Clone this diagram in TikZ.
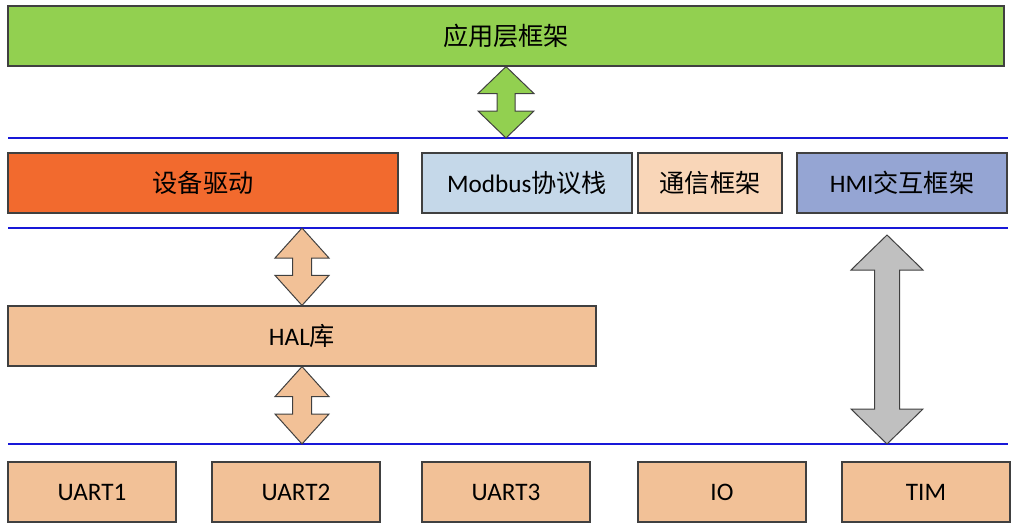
\documentclass[tikz,border=0pt]{standalone}
\usepackage{fontspec}
\setmainfont{Carlito}
\newfontfamily\cjk{Noto Sans CJK SC}
\usetikzlibrary{calc}

\definecolor{appgreen}{HTML}{92D050}
\definecolor{drvorange}{HTML}{F26A2E}
\definecolor{modblue}{HTML}{C5D8E9}
\definecolor{compeach}{HTML}{F9D6B8}
\definecolor{hmiblue}{HTML}{95A5D3}
\definecolor{halpeach}{HTML}{F2C197}
\definecolor{linkgray}{HTML}{C0C0C0}
\definecolor{busblue}{HTML}{1818D8}
\definecolor{edgegray}{HTML}{404040}

% #1 top tip, #2 bottom tip, #3 half shaft, #4 half head, #5 head length, #6 fill
\newcommand\updown[6]{%
\draw [edgegray, fill=#6, line width=0.5pt] (#1) -- ++(#4,#5) -- ++({#3-#4},0)
  -- ($(#2)+(#3,-#5)$) -- ++({#4-#3},0) -- (#2) -- ++(-#4,-#5) -- ++({#4-#3},0)
  -- ($(#1)+(-#3,#5)$) -- ++({#3-#4},0) -- cycle;}

\begin{document}
\begin{tikzpicture}[x=0.5pt,y=-0.5pt,
  box/.style={draw=edgegray, line width=0.6pt, minimum height=30pt, inner sep=0pt,
    font=\fontsize{12.6pt}{15pt}\selectfont},
  bus/.style={busblue, line width=1.4pt}]
\useasboundingbox (0,0) rectangle (1016,525);
% top layer
\node [box, fill=appgreen, minimum width=498pt] (app) at (506,36) {\cjk 应用层框架};
\coordinate (l1w) at (8,138);
\draw [bus] (l1w) -- (1008,138);
% middle layer
\node [box, fill=drvorange, minimum width=195pt] (drv) at (203,183) {\cjk 设备驱动};
\node [box, fill=modblue, minimum width=105pt] (mod) at (527,183) {Modbus{\cjk 协议栈}};
\node [box, fill=compeach, minimum width=72pt] (com) at (710,183) {\cjk 通信框架};
\node [box, fill=hmiblue, minimum width=105pt] (hmi) at (902,183) {HMI{\cjk 交互框架}};
\coordinate (l2w) at (8,228);
\draw [bus] (l2w) -- (1008,228);
\node [box, fill=halpeach, minimum width=294pt] (hal) at (302,336) {HAL{\cjk 库}};
\coordinate (l3w) at (8,444);
\draw [bus] (l3w) -- (1008,444);
% hardware
\node [box, fill=halpeach, minimum width=84pt] (uart1) at (92,492) {UART1};
\node [box, fill=halpeach, minimum width=84pt] (uart2) at (296,492) {UART2};
\node [box, fill=halpeach, minimum width=84pt] (uart3) at (506,492) {UART3};
\node [box, fill=halpeach, minimum width=84pt] (io) at (722,492) {IO};
\node [box, fill=halpeach, minimum width=84pt] (tim) at (926,492) {TIM};
% links
\updown{app.south}{app.south |- l1w}{9}{28}{27}{appgreen}
\updown{hal.north |- l2w}{hal.north}{9.5}{27}{30}{halpeach}
\updown{hal.south}{hal.south |- l3w}{9.5}{27}{30}{halpeach}
\coordinate (gtop) at (887,235);
\updown{gtop}{gtop |- l3w}{12.5}{36}{35}{linkgray}
\end{tikzpicture}
\end{document}
